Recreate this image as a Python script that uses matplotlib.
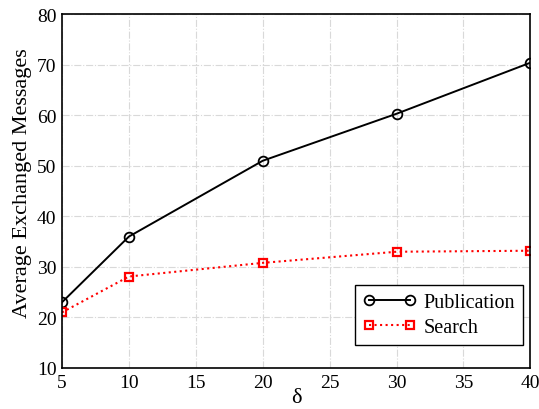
import matplotlib.pyplot as plt

plt.rcParams['font.family'] = ['Liberation Serif', 'DejaVu Serif']

delta = [5, 10, 20, 30, 40]
publication = [23, 36, 51, 60.3, 70.4]
search = [21, 28.1, 30.8, 33, 33.2]

fig = plt.figure(figsize=(5.39, 4.10), dpi=100)
ax = fig.add_axes([0.115, 0.1, 0.869, 0.863])

ax.plot(delta, publication, color='black', linestyle='-', linewidth=1.4,
        marker='o', markersize=7, markerfacecolor='none', markeredgewidth=1.3,
        label='Publication')
ax.plot(delta, search, color='red', linestyle=':', linewidth=1.5,
        marker='s', markersize=6, markerfacecolor='none', markeredgewidth=1.6,
        label='Search')

ax.set_xlim(5, 40)
ax.set_ylim(10, 80)
ax.set_xticks([5, 10, 15, 20, 25, 30, 35, 40])
ax.set_yticks([10, 20, 30, 40, 50, 60, 70, 80])
ax.tick_params(direction='in', length=0, labelsize=14, pad=4)

ax.grid(True, color='#d9d9d9', linestyle='-.', linewidth=0.8)
ax.set_axisbelow(True)
for s in ax.spines.values():
    s.set_linewidth(1.2)

ax.set_xlabel('δ', fontsize=16, labelpad=-2)
ax.set_ylabel('Average Exchanged Messages', fontsize=16)
ax.yaxis.set_label_coords(-0.065, 0.525)

leg = ax.legend(loc='lower right', bbox_to_anchor=(0.985, 0.065),
                fontsize=14.5, fancybox=False, framealpha=1, numpoints=2,
                edgecolor='black', borderaxespad=0, handlelength=2.6,
                borderpad=0.4, labelspacing=0.3, handletextpad=0.4)
leg.get_frame().set_linewidth(1.0)

plt.savefig('out.png', dpi=100)
